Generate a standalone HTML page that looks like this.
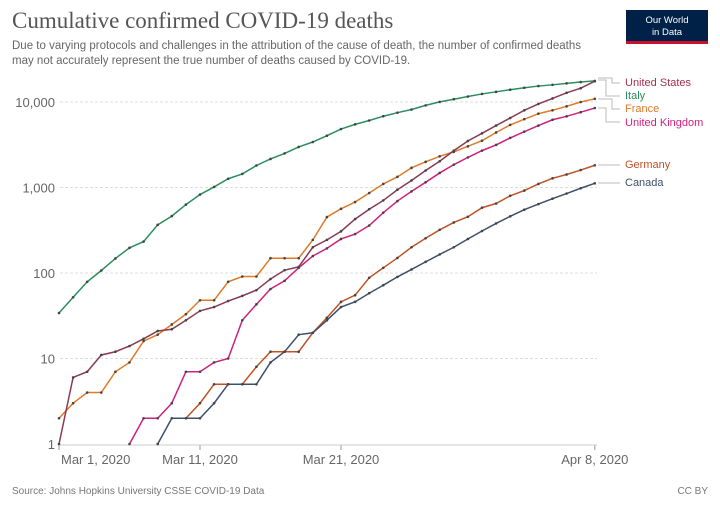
<!DOCTYPE html>
<html><head><meta charset="utf-8"><style>
body{margin:0;background:#fff;width:720px;height:507px;overflow:hidden;font-family:"Liberation Sans",sans-serif}
</style></head><body>
<svg id="s" width="720" height="507" xmlns="http://www.w3.org/2000/svg" font-family="Liberation Sans, sans-serif">
<text x="12" y="28" font-family="Liberation Serif, serif" font-size="23" fill="#555">Cumulative confirmed COVID-19 deaths</text>
<text x="12" y="49" font-size="11.5" fill="#666">Due to varying protocols and challenges in the attribution of the cause of death, the number of confirmed deaths</text>
<text x="12" y="64" font-size="11.5" fill="#666">may not accurately represent the true number of deaths caused by COVID-19.</text>
<rect x="626" y="10" width="82" height="34" fill="#002147"/>
<rect x="626" y="41" width="82" height="3" fill="#c8102e"/>
<text x="667" y="23" font-size="9.5" fill="#fff" text-anchor="middle">Our World</text>
<text x="667" y="35" font-size="9.5" fill="#fff" text-anchor="middle">in Data</text>
<g id="grid"></g>
<g id="lines"></g>
<text x="12" y="494" font-size="10" fill="#777">Source: Johns Hopkins University CSSE COVID-19 Data</text>
<text x="708" y="494" font-size="10" fill="#777" text-anchor="end">CC BY</text>
</svg>
<script>
const NS="http://www.w3.org/2000/svg";
const X=d=>59+14.1*d, Y=v=>444-85.5*Math.log10(v);
const g=document.getElementById('grid'), L=document.getElementById('lines');
function el(p,t,a,txt){const e=document.createElementNS(NS,t);for(const k in a)e.setAttribute(k,a[k]);if(txt)e.textContent=txt;p.appendChild(e);return e;}
[[1,"1"],[10,"10"],[100,"100"],[1000,"1,000"],[10000,"10,000"]].forEach(([v,s])=>{
 const y=Y(v); if(v>1)el(g,'line',{x1:60,x2:597,y1:y,y2:y,stroke:'#ddd','stroke-dasharray':'3,2'});
 el(g,'text',{x:55,y:y+5,'font-size':13,fill:'#666','text-anchor':'end'},s);});
[[0,"Mar 1, 2020",'start'],[10,"Mar 11, 2020",'middle'],[20,"Mar 21, 2020",'middle'],[38,"Apr 8, 2020",'middle']].forEach(([d,s,a])=>{
 const x=X(d);el(g,'line',{x1:x,x2:x,y1:445,y2:450,stroke:'#999'});
 el(g,'text',{x:a=='start'?x+2:x,y:464,'font-size':13,fill:'#666','text-anchor':a},s);});
el(g,'line',{x1:59,x2:597,y1:445,y2:445,stroke:'#ccc'});
const S=[
{c:'#2a8f5c',s:0,d:[34,52,79,107,148,197,233,366,463,631,827,1016,1266,1441,1809,2158,2503,2978,3405,4032,4825,5476,6077,6820,7503,8165,9134,10023,10779,11591,12428,13155,13915,14681,15362,15887,16523,17127,17669]},
{c:'#e07a26',s:0,d:[2,3,4,4,7,9,16,19,25,33,48,48,79,91,91,149,149,149,244,451,563,676,862,1102,1333,1698,1997,2317,2611,3030,3532,4400,5400,6300,7300,8000,8900,10000,10900]},
{c:'#8a3a52',s:0,d:[1,6,7,11,12,14,17,21,22,28,36,40,47,54,63,85,108,118,200,244,307,427,557,706,942,1209,1581,2026,2700,3500,4300,5300,6500,8000,9500,11000,12800,14500,17500]},
{c:'#d1207c',s:5,d:[1,2,2,3,7,7,9,10,28,43,65,81,115,158,194,250,285,359,508,694,900,1150,1480,1850,2250,2700,3150,3800,4500,5300,6200,6800,7600,8500]},
{c:'#c15224',s:9,d:[2,3,5,5,5,8,12,12,12,20,30,46,55,88,115,150,200,255,320,390,455,580,650,800,920,1100,1280,1420,1600,1820]},
{c:'#3d4f6b',s:7,d:[1,2,2,2,3,5,5,5,9,12,19,20,28,40,46,58,72,90,110,135,165,200,250,310,380,460,550,640,740,850,980,1120]}];
S.forEach(o=>{
 const pts=o.d.map((v,i)=>[X(o.s+i),Y(v)]);
 el(L,'polyline',{points:pts.map(p=>p.join(',')).join(' '),fill:'none',stroke:o.c,'stroke-width':1.5});
 pts.forEach(p=>el(L,'circle',{cx:p[0],cy:p[1],r:1.3,fill:'#444'}));
});
</script>
<svg style="position:absolute;left:0;top:0" width="720" height="507" font-family="Liberation Sans, sans-serif" font-size="11">
<g fill="none" stroke="#bbb">
<path d="M598 78 H612 V83 H620"/><path d="M598 80 H606 V96 H620"/>
<path d="M598 99 H612 V109 H620"/><path d="M598 108 H606 V122 H620"/>
<path d="M598 165 H620"/><path d="M598 183 H620"/>
</g>
<text x="625" y="86" fill="#a2304f">United States</text>
<text x="625" y="99" fill="#2a8f5c">Italy</text>
<text x="625" y="112" fill="#e07a26">France</text>
<text x="625" y="126" fill="#d1207c">United Kingdom</text>
<text x="625" y="168" fill="#c15224">Germany</text>
<text x="625" y="186" fill="#3d4f6b">Canada</text>
</svg>
</body></html>
